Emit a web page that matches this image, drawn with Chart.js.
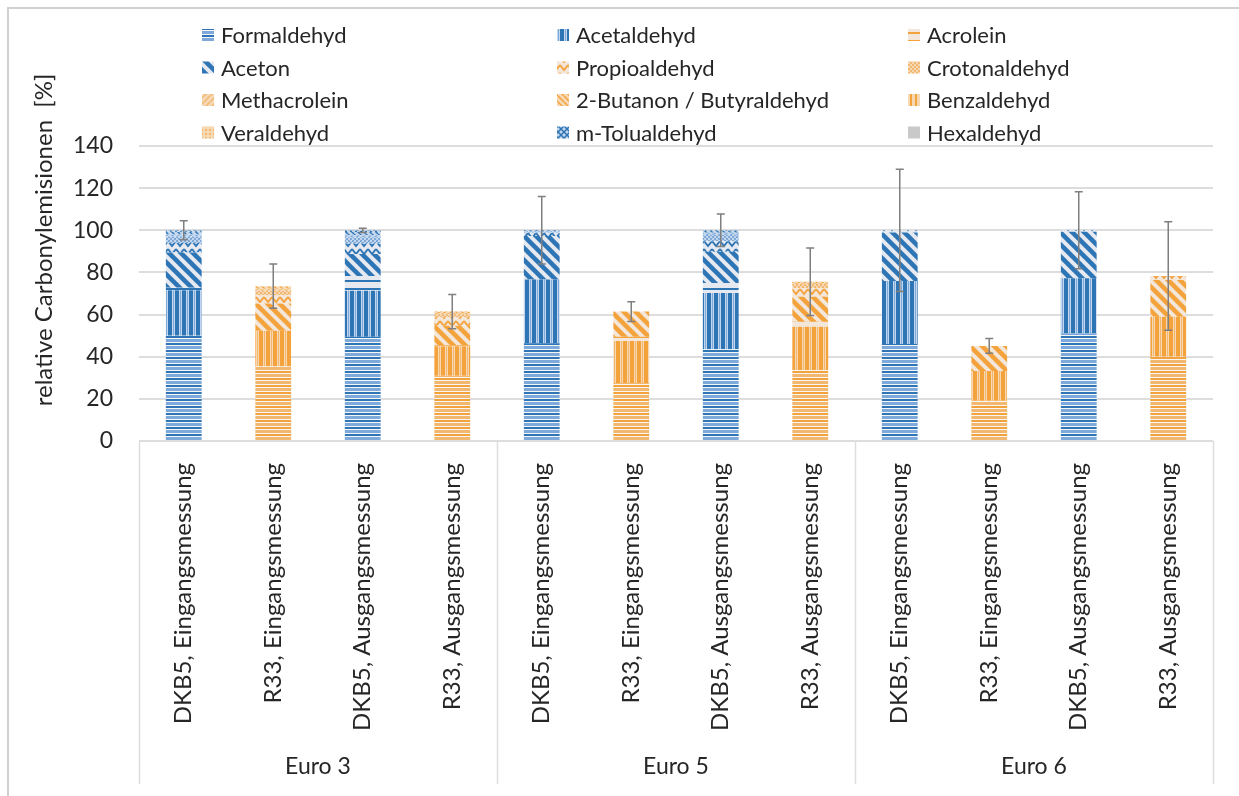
<!DOCTYPE html>
<html>
<head>
<meta charset="utf-8">
<script src="https://cdn.jsdelivr.net/npm/chart.js@4.4.0/dist/chart.umd.min.js"></script>
<style>
  html, body { margin: 0; background: #fff; }
  #wrap { width: 1239px; height: 796px; position: relative; }
</style>
</head>
<body>
<div id="wrap"><canvas id="chart"></canvas></div>
<script>
const categories = [
  'DKB5, Eingangsmessung', 'R33, Eingangsmessung', 'DKB5, Ausgangsmessung', 'R33, Ausgangsmessung',
  'DKB5, Eingangsmessung', 'R33, Eingangsmessung', 'DKB5, Ausgangsmessung', 'R33, Ausgangsmessung',
  'DKB5, Eingangsmessung', 'R33, Eingangsmessung', 'DKB5, Ausgangsmessung', 'R33, Ausgangsmessung'
];
const groups = ['Euro 3', 'Euro 5', 'Euro 6'];
const yTicks = [0, 20, 40, 60, 80, 100, 120, 140];

const formaldehyd   = [50, 35.3, 49.5, 31, 46.4, 27.5, 43.5, 33.7, 46, 19.1, 51.1, 40];
const acetaldehyd   = [21.5, 17, 21.8, 14, 30.3, 20, 26.7, 20.5, 29.9, 14.1, 26.1, 19];
const acrolein      = [1.2, 0, 7, 0.5, 0, 2, 4.8, 2.4, 0, 0, 0, 0];
const aceton        = [16.8, 13, 10.4, 9.2, 20.6, 11.9, 14.8, 11.9, 23, 11.9, 22.1, 17.4];
const propioaldehyd = [4.5, 4, 5, 4, 1.5, 0, 5, 4, 1.1, 0, 0.7, 1.9];
const crotonaldehyd = [3, 2, 3, 1.5, 0.7, 0, 3, 2, 0, 0, 0, 0];
const methacrolein  = [1, 1, 1, 0.5, 0.2, 0, 1, 0.5, 0, 0, 0, 0];
const butanon       = [1.2, 1, 1.5, 0.5, 0.3, 0, 1, 0.4, 0, 0, 0, 0];
const benzaldehyd   = [0.4, 0.2, 0.5, 0.2, 0, 0, 0.2, 0.2, 0, 0, 0, 0];
const veraldehyd    = [0.2, 0, 0.1, 0, 0, 0, 0, 0, 0, 0, 0, 0];
const mTolualdehyd  = [0.2, 0, 0.2, 0, 0, 0, 0, 0, 0, 0, 0, 0];
const hexaldehyd    = [0, 0, 0, 0, 0, 0, 0, 0, 0, 0, 0, 0];
const errors = [4.5, 10.5, 1, 8.1, 16, 4.7, 7.7, 16, 29, 3.5, 18.3, 25.7];

const seriesNames = [
  'Formaldehyd', 'Acetaldehyd', 'Acrolein', 'Aceton', 'Propioaldehyd', 'Crotonaldehyd',
  'Methacrolein', '2-Butanon / Butyraldehyd', 'Benzaldehyd', 'Veraldehyd', 'm-Tolualdehyd', 'Hexaldehyd'
];
const seriesData = [
  formaldehyd, acetaldehyd, acrolein, aceton, propioaldehyd, crotonaldehyd,
  methacrolein, butanon, benzaldehyd, veraldehyd, mTolualdehyd, hexaldehyd
];
const seriesPattern = ['horiz', 'vert', 'hthin', 'diag', 'zigzag', 'check', 'fdiag', 'bdiag', 'vthin', 'dots', 'cross', 'solid'];
const legendFamily = ['blue', 'blue', 'orange', 'blue', 'orange', 'orange', 'orange', 'orange', 'orange', 'orange', 'blue', 'grey'];

const FAMILY = {
  blue:   { dark: '#2E75B6', mid: '#7DAADB', light: '#C3D6EC', bg: '#E6EAF0' },
  orange: { dark: '#F4A23C', mid: '#F3B870', light: '#F6D9B4', bg: '#F2E7DA' },
  grey:   { dark: '#BFBFBF', mid: '#C9C9C9', light: '#D9D9D9', bg: '#D0D0D0' }
};

function tile(w, h, draw) {
  const c = document.createElement('canvas');
  c.width = w; c.height = h;
  const g = c.getContext('2d');
  draw(g, w, h);
  return g.createPattern(c, 'repeat');
}

function makePattern(type, f) {
  switch (type) {
    case 'horiz': return tile(8, 7, (g) => {
      g.fillStyle = f.dark; g.fillRect(0, 0, 8, 7);
      g.fillStyle = '#F6F6F6'; g.fillRect(0, 2, 8, 1); g.fillRect(0, 6, 8, 1);
      g.fillStyle = f.mid; g.fillRect(0, 3, 8, 3);
    });
    case 'vert': return tile(7, 8, (g) => {
      g.fillStyle = f.dark; g.fillRect(0, 0, 7, 8);
      g.fillStyle = f.light; g.fillRect(4, 0, 1, 8);
      g.fillStyle = f.mid; g.fillRect(5, 0, 1, 8);
      g.fillStyle = f.light; g.fillRect(6, 0, 1, 8);
    });
    case 'hthin': return tile(8, 8, (g) => {
      g.fillStyle = f.bg; g.fillRect(0, 0, 8, 8);
      g.fillStyle = f.dark; g.fillRect(0, 0, 8, 2);
    });
    case 'diag': return tile(12, 12, (g) => {
      g.fillStyle = f.bg; g.fillRect(0, 0, 12, 12);
      g.strokeStyle = f.dark; g.lineWidth = 4.5;
      for (const o of [-12, 0, 12]) {
        g.beginPath(); g.moveTo(o - 2, -2); g.lineTo(o + 14, 14); g.stroke();
      }
    });
    case 'zigzag': return tile(8, 8, (g) => {
      g.fillStyle = f.bg; g.fillRect(0, 0, 8, 8);
      g.strokeStyle = f.dark; g.lineWidth = 2;
      g.beginPath(); g.moveTo(0, 1); g.lineTo(4, 6); g.lineTo(8, 1); g.stroke();
    });
    case 'check': return tile(4, 4, (g) => {
      g.fillStyle = f.light; g.fillRect(0, 0, 4, 4);
      g.fillStyle = f.mid; g.fillRect(0, 0, 2, 2); g.fillRect(2, 2, 2, 2);
    });
    case 'fdiag': return tile(6, 6, (g) => {
      g.fillStyle = f.light; g.fillRect(0, 0, 6, 6);
      g.strokeStyle = f.mid; g.lineWidth = 1.5;
      for (const o of [-6, 0, 6]) { g.beginPath(); g.moveTo(o, 6); g.lineTo(o + 6, 0); g.stroke(); }
    });
    case 'bdiag': return tile(6, 6, (g) => {
      g.fillStyle = f.light; g.fillRect(0, 0, 6, 6);
      g.strokeStyle = f.dark; g.lineWidth = 1.5;
      for (const o of [-6, 0, 6]) { g.beginPath(); g.moveTo(o, 0); g.lineTo(o + 6, 6); g.stroke(); }
    });
    case 'vthin': return tile(5, 5, (g) => {
      g.fillStyle = f.light; g.fillRect(0, 0, 5, 5);
      g.fillStyle = f.dark; g.fillRect(0, 0, 2, 5);
    });
    case 'dots': return tile(4, 4, (g) => {
      g.fillStyle = f.light; g.fillRect(0, 0, 4, 4);
      g.fillStyle = f.mid; g.fillRect(1, 1, 2, 2);
    });
    case 'cross': return tile(6, 6, (g) => {
      g.fillStyle = f.light; g.fillRect(0, 0, 6, 6);
      g.strokeStyle = f.dark; g.lineWidth = 1.5;
      g.beginPath(); g.moveTo(0, 0); g.lineTo(6, 6); g.moveTo(6, 0); g.lineTo(0, 6); g.stroke();
    });
    default: return tile(4, 4, (g) => { g.fillStyle = f.mid; g.fillRect(0, 0, 4, 4); });
  }
}

// one pattern per series and colour family
const patterns = seriesPattern.map(t => ({
  blue: makePattern(t, FAMILY.blue),
  orange: makePattern(t, FAMILY.orange),
  grey: makePattern(t, FAMILY.grey)
}));

const totals = categories.map((_, i) => seriesData.reduce((s, arr) => s + arr[i], 0));

const TEXT = '#262626';
const GRID = '#DDDDDD';

const framePlugin = {
  id: 'frame',
  beforeDraw(chart) {
    const { ctx } = chart;
    ctx.save();
    ctx.strokeStyle = '#D0D0D0';
    ctx.lineWidth = 2;
    ctx.beginPath();
    ctx.moveTo(8, chart.height); ctx.lineTo(8, 8); ctx.lineTo(chart.width, 8);
    ctx.stroke();
    ctx.restore();
  }
};

const separatorPlugin = {
  id: 'separators',
  afterDraw(chart) {
    const { ctx, chartArea } = chart;
    const x = chart.scales.x;
    const step = (x.right - x.left) / categories.length;
    ctx.save();
    ctx.strokeStyle = GRID;
    ctx.lineWidth = 1.5;
    for (let i = 0; i <= categories.length; i += 4) {
      const px = Math.round(x.left + i * step) + 0.5;
      ctx.beginPath(); ctx.moveTo(px, chartArea.bottom); ctx.lineTo(px, chart.height - 12); ctx.stroke();
    }
    ctx.restore();
  }
};

const errorBarPlugin = {
  id: 'errorBars',
  afterDatasetsDraw(chart) {
    const { ctx } = chart;
    const x = chart.scales.x, y = chart.scales.y;
    ctx.save();
    ctx.strokeStyle = '#7F7F7F';
    ctx.lineWidth = 1.5;
    totals.forEach((t, i) => {
      const px = x.getPixelForValue(i);
      const top = y.getPixelForValue(t + errors[i]);
      const bot = y.getPixelForValue(t - errors[i]);
      ctx.beginPath();
      ctx.moveTo(px, top); ctx.lineTo(px, bot);
      ctx.moveTo(px - 4, top); ctx.lineTo(px + 4, top);
      ctx.moveTo(px - 4, bot); ctx.lineTo(px + 4, bot);
      ctx.stroke();
    });
    ctx.restore();
  }
};

const legendPlugin = {
  id: 'gridLegend',
  afterDraw(chart) {
    const { ctx } = chart;
    const cols = [202, 557, 908];
    ctx.save();
    ctx.font = '22px Lato';
    ctx.textBaseline = 'middle';
    seriesNames.forEach((name, i) => {
      const x = cols[i % 3];
      const y = 35 + Math.floor(i / 3) * 32.5;
      ctx.fillStyle = patterns[i][legendFamily[i]];
      ctx.fillRect(x, y - 6, 12, 12);
      ctx.fillStyle = TEXT;
      ctx.fillText(name, x + 19, y + 1);
    });
    ctx.restore();
  }
};

const yTitlePlugin = {
  id: 'yTitle',
  afterDraw(chart) {
    const { ctx } = chart;
    ctx.save();
    ctx.translate(44, 240);
    ctx.rotate(-Math.PI / 2);
    ctx.font = '24px Lato';
    ctx.fillStyle = TEXT;
    ctx.textAlign = 'center';
    ctx.textBaseline = 'middle';
    ctx.fillText('relative Carbonylemisionen  [%]', 0, 0);
    ctx.restore();
  }
};

Chart.defaults.font.family = 'Lato';
Chart.defaults.color = TEXT;

new Chart(document.getElementById('chart'), {
  type: 'bar',
  data: {
    labels: categories,
    datasets: seriesNames.map((name, s) => ({
      label: name,
      data: seriesData[s],
      backgroundColor: ctx => patterns[s][ctx.dataIndex % 2 === 0 ? 'blue' : 'orange'],
      borderWidth: 0,
      categoryPercentage: 1,
      barPercentage: 0.4
    }))
  },
  options: {
    responsive: true,
    maintainAspectRatio: false,
    animation: false,
    layout: { padding: { top: 146, left: 10, right: 26, bottom: 10 } },
    plugins: {
      legend: { display: false },
      tooltip: { enabled: false }
    },
    scales: {
      x: {
        stacked: true,
        weight: 0,
        grid: { display: false },
        border: { display: false },
        ticks: { autoSkip: false, maxRotation: 90, minRotation: 90, padding: 14, font: { size: 24 }, color: TEXT },
        afterFit: s => { s.height = 300; }
      },
      x2: {
        type: 'category',
        labels: groups,
        position: 'bottom',
        weight: 1,
        offset: true,
        grid: { display: false, drawTicks: false },
        border: { display: false },
        ticks: { padding: 12, font: { size: 23 }, color: TEXT },
        afterFit: s => { s.height = 45; }
      },
      y: {
        stacked: true,
        min: 0,
        max: 140,
        afterBuildTicks: s => { s.ticks = yTicks.map(v => ({ value: v })); },
        grid: { color: GRID, lineWidth: 2, drawTicks: false },
        border: { display: false },
        ticks: { padding: 26, font: { size: 23 }, color: TEXT },
        afterFit: s => { s.width = 129; }
      }
    }
  },
  plugins: [framePlugin, separatorPlugin, errorBarPlugin, legendPlugin, yTitlePlugin]
});
</script>
</body>
</html>
